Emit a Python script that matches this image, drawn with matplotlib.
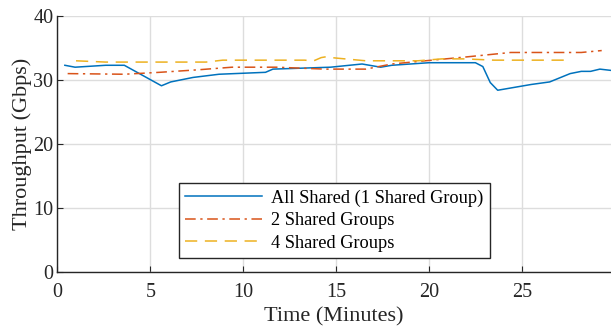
import matplotlib.pyplot as plt

plt.rcParams['font.family'] = ['Liberation Serif', 'DejaVu Serif']

# all shared (1 group)
t_all = [0.4, 0.95, 2.6, 3.6, 5.6, 6.1, 7.3, 8.7, 11.2, 11.6, 14.7, 16.4, 17.4, 18.0,
         20.0, 22.5, 22.9, 23.3, 23.7, 25.5, 26.5, 27.6, 28.2, 28.7, 29.2, 29.8]
thr_all = [32.3, 32.0, 32.3, 32.3, 29.1, 29.7, 30.4, 30.9, 31.2, 31.7, 32.0, 32.5, 32.0, 32.3,
           32.7, 32.7, 32.1, 29.6, 28.4, 29.3, 29.7, 31.0, 31.35, 31.35, 31.7, 31.5]

# 2 shared groups
t_two = [0.55, 3.6, 5.5, 7.6, 9.4, 11.8, 14.4, 16.6, 18.0, 19.8, 22.0, 24.4, 28.2, 29.3]
thr_two = [31.0, 30.9, 31.2, 31.6, 32.0, 32.0, 31.7, 31.7, 32.5, 33.0, 33.6, 34.3, 34.3, 34.6]

# 4 shared groups
t_four = [1.0, 2.6, 8.0, 8.9, 13.3, 13.8, 14.2, 14.4, 15.1, 16.6, 19.4, 20.7, 21.9, 23.5, 27.6]
thr_four = [33.0, 32.8, 32.8, 33.1, 33.1, 33.0, 33.5, 33.6, 33.4, 33.0, 33.0, 33.3, 33.3, 33.1, 33.1]

fig = plt.figure(figsize=(6.11, 3.33), dpi=100)
ax = fig.add_axes([0.094, 0.183, 0.906, 0.769])

ax.plot(t_all, thr_all, color='#0072BD', lw=1.1, label='All Shared (1 Shared Group)')
ax.plot(t_two, thr_two, color='#D95319', lw=1.1, ls=(0, (7, 3, 1.5, 3)), label='2 Shared Groups')
ax.plot(t_four, thr_four, color='#EDB120', lw=1.1, ls=(0, (8, 5)), label='4 Shared Groups')

ax.set_xlim(0, 29.8)
ax.set_ylim(0, 40)
ax.set_xticks([0, 5, 10, 15, 20, 25])
ax.set_yticks([0, 10, 20, 30, 40])
ax.grid(True, color='#dddddd', lw=1)
ax.set_axisbelow(True)
for s in ['top', 'right']:
    ax.spines[s].set_visible(False)
for s in ['left', 'bottom']:
    ax.spines[s].set_color('#262626')
    ax.spines[s].set_linewidth(1.0)
ax.tick_params(direction='in', length=4, colors='#262626', labelsize=14.5)
ax.tick_params(axis='x', pad=8)
ax.tick_params(axis='y', pad=3)
ax.set_xlabel('Time (Minutes)', fontsize=16, color='#262626', labelpad=4)
ax.set_ylabel('Throughput (Gbps)', fontsize=16, color='#262626', labelpad=1)

leg = ax.legend(loc='lower center', bbox_to_anchor=(0.5, 0.055), fontsize=13.2,
                handlelength=4.2, fancybox=False, framealpha=1, borderpad=0.35,
                labelspacing=0.3, handletextpad=0.5, borderaxespad=0)
leg.get_frame().set_edgecolor('#262626')
leg.get_frame().set_linewidth(1.0)

fig.savefig('out.png', dpi=100)
